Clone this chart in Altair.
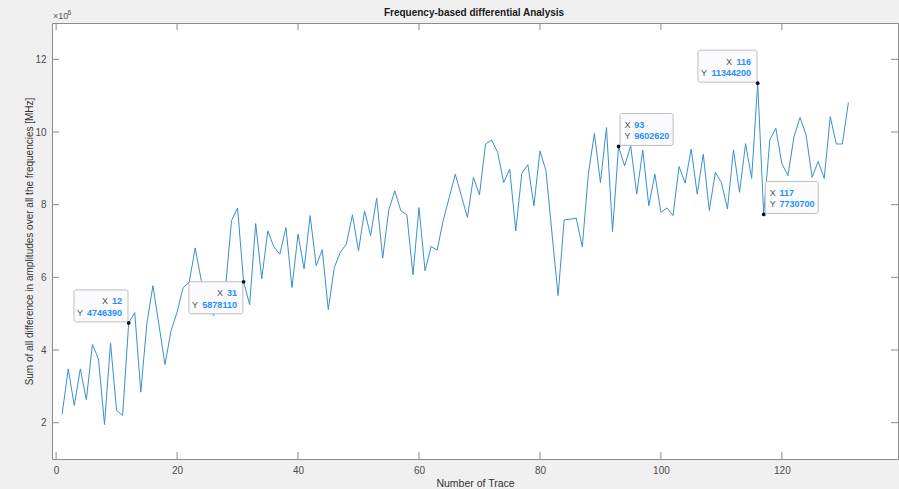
import altair as alt
import pandas as pd

# ---------------- data ----------------
trace_numbers = list(range(1, 132))
amplitude_sum_millions = [
    2.24, 3.48, 2.47, 3.48, 2.63, 4.15, 3.76, 1.95, 4.19, 2.33,
    2.20, 4.74639, 5.03, 2.84, 4.72, 5.77, 4.70, 3.60, 4.53, 5.04,
    5.72, 5.86, 6.81, 5.91, 5.40, 4.95, 5.30, 5.70, 7.56, 7.91,
    5.87811, 5.25, 7.48, 5.96, 7.28, 6.84, 6.64, 7.37, 5.72, 7.19,
    6.23, 7.70, 6.32, 6.76, 5.11, 6.27, 6.69, 6.92, 7.72, 6.73,
    7.83, 7.15, 8.18, 6.53, 7.85, 8.38, 7.83, 7.72, 6.07, 7.92,
    6.18, 6.85, 6.75, 7.56, 8.20, 8.84, 8.25, 7.65, 8.75, 8.27,
    9.67, 9.78, 9.44, 8.61, 8.98, 7.28, 8.86, 9.10, 7.97, 9.48,
    8.93, 7.19, 5.50, 7.58, 7.60, 7.63, 6.84, 8.84, 9.96, 8.61,
    10.12, 7.26, 9.60262, 9.07, 9.62, 8.29, 9.50, 7.97, 8.84, 7.79,
    7.91, 7.70, 9.05, 8.59, 9.53, 8.29, 9.39, 7.84, 8.89, 8.61,
    7.88, 9.51, 8.34, 9.68, 8.72, 11.3442, 7.7307, 9.78, 10.10, 9.13,
    8.80, 9.87, 10.40, 9.92, 8.75, 9.19, 8.72, 10.42, 9.67, 9.67,
    10.81,
]
tip_traces = [12, 31, 93, 116, 117]
tip_values = [4746390, 5878110, 9602620, 11344200, 7730700]
x_tick_values = [0, 20, 40, 60, 80, 100, 120]
y_tick_values = [2e6, 4e6, 6e6, 8e6, 10e6, 12e6]
chart_title = ["Frequency-based differential Analysis"]

# ---------------- layout / style ----------------
W, H = 846, 436
X_DOMAIN = [-0.68, 139.2]
Y_DOMAIN = [1e6, 13e6]
FONT = "Liberation Sans"
AX = "#8c8c8c"
LINE = "#3b8fd0"
TIP_BLUE = "#1e90ff"
TIP_GRAY = "#505050"
DIGIT_W = 5.0
tip_styles = [
    {"side": "left", "vert": "above", "w": 54},
    {"side": "left", "vert": "below", "w": 54},
    {"side": "right", "vert": "above", "w": 53},
    {"side": "left", "vert": "above", "w": 59},
    {"side": "right", "vert": "above", "w": 53},
]

xs = alt.Scale(domain=X_DOMAIN, nice=False, zero=False)
ys = alt.Scale(domain=Y_DOMAIN, nice=False, zero=False)

series = pd.DataFrame({
    "trace": trace_numbers,
    "amp": [v * 1e6 for v in amplitude_sum_millions],
})

line = alt.Chart(series).mark_line(color=LINE, strokeWidth=1).encode(
    x=alt.X("trace:Q", scale=xs, axis=alt.Axis(
        values=x_tick_values, ticks=False, domain=False, grid=False,
        labelFontSize=10, labelPadding=6, labelColor="#4d4d4d",
        title="Number of Trace", titleFontSize=10.5, titleFontWeight="normal",
        titleColor="#333333", titleX=W / 2, titleY=24, titleBaseline="middle",
        titleAlign="center")),
    y=alt.Y("amp:Q", scale=ys, axis=alt.Axis(
        values=y_tick_values, labelExpr="datum.value / 1000000", ticks=False,
        domain=False, grid=False, labelFontSize=10, labelPadding=6,
        labelColor="#4d4d4d",
        title="Sum of all difference in amplitudes over all the frequencies [MHz]",
        titleFontSize=10, titleFontWeight="normal", titleColor="#333333",
        titleX=-23, titleY=H / 2, titleAngle=270, titleBaseline="middle",
        titleAlign="center")),
)

# inward ticks (MATLAB style)
ydf = pd.DataFrame({"v": y_tick_values})
xdf = pd.DataFrame({"v": x_tick_values})
tick_layers = [
    alt.Chart(ydf).mark_rule(color=AX, strokeWidth=1).encode(
        y=alt.Y("v:Q", scale=ys), x=alt.value(0), x2=alt.value(7)),
    alt.Chart(ydf).mark_rule(color=AX, strokeWidth=1).encode(
        y=alt.Y("v:Q", scale=ys), x=alt.value(W - 7), x2=alt.value(W)),
    alt.Chart(xdf).mark_rule(color=AX, strokeWidth=1).encode(
        x=alt.X("v:Q", scale=xs), y=alt.value(H - 7), y2=alt.value(H)),
    alt.Chart(xdf).mark_rule(color=AX, strokeWidth=1).encode(
        x=alt.X("v:Q", scale=xs), y=alt.value(0), y2=alt.value(7)),
]

# title and exponent label
title_mark = alt.Chart(pd.DataFrame({"t": chart_title})).mark_text(
    align="center", baseline="middle", fontSize=10, fontWeight="bold",
    color="#1a1a1a", font=FONT
).encode(text="t:N", x=alt.value(W / 2 - 1), y=alt.value(-10))
exp_base = alt.Chart(pd.DataFrame({"t": ["\u00d710"]})).mark_text(
    align="left", baseline="alphabetic", fontSize=9, color="#555555", font=FONT
).encode(text="t:N", x=alt.value(1), y=alt.value(-4))
exp_pow = alt.Chart(pd.DataFrame({"t": ["6"]})).mark_text(
    align="left", baseline="alphabetic", fontSize=7, color="#555555", font=FONT
).encode(text="t:N", x=alt.value(15.5), y=alt.value(-8))

# data tips
tip_layers = []
for trace, value, st in zip(tip_traces, tip_values, tip_styles):
    df = pd.DataFrame({"trace": [trace], "amp": [value],
                       "xs": [str(trace)], "ys": [str(value)],
                       "xl": ["X"], "yl": ["Y"]})
    base = alt.Chart(df)
    enc = dict(x=alt.X("trace:Q", scale=xs), y=alt.Y("amp:Q", scale=ys))
    if st["side"] == "left":
        bx0, bx1 = -0.7 - st["w"], -0.7
    else:
        bx0, bx1 = 1.5, 1.5 + st["w"]
    if st["vert"] == "above":
        by0, by1 = -33, -1
    else:
        by0, by1 = 0, 32
    rect = base.mark_rect(
        fill="#fbfbfe", stroke="#bdbdc4", strokeWidth=1, cornerRadius=2,
        xOffset=bx0, x2Offset=bx1, yOffset=by0, y2Offset=by1,
    ).encode(x=alt.X("trace:Q", scale=xs), x2="trace",
             y=alt.Y("amp:Q", scale=ys), y2="amp")
    tip_layers.append(rect)
    rows = [("xl", "xs", by0 + 11.5, str(trace)), ("yl", "ys", by0 + 23, str(value))]
    for lab_f, val_f, dy, sval in rows:
        if st["side"] == "left":
            edge = bx1 - 6
            vdx = edge
            ldx = edge - len(sval) * DIGIT_W - 4
            al = "right"
        else:
            ldx = bx0 + 4.5
            vdx = bx0 + 14.2
            al = "left"
        lab = base.mark_text(align=al, baseline="middle", dx=ldx, dy=dy,
                             fontSize=9, color=TIP_GRAY,
                             font=FONT).encode(text=f"{lab_f}:N", **enc)
        val = base.mark_text(align=al, baseline="middle", dx=vdx, dy=dy,
                             fontSize=9, fontWeight="bold", color=TIP_BLUE,
                             font=FONT).encode(text=f"{val_f}:N", **enc)
        tip_layers += [lab, val]
    dot = base.mark_point(filled=True, size=14, color="#111111", opacity=1).encode(**enc)
    tip_layers.append(dot)

chart = alt.layer(line, *tick_layers, title_mark, exp_base, exp_pow, *tip_layers).properties(
    width=W, height=H,
    autosize=alt.AutoSizeParams(type="none"),
    padding={"left": 52, "top": 23, "right": 1, "bottom": 30},
).configure(background="#f0f0f0", font=FONT).configure_view(
    fill="white", stroke=AX, strokeWidth=1
).configure_axis(labelFont=FONT, titleFont=FONT)

chart.save("out.html", embed_options={"renderer": "svg", "actions": False})
